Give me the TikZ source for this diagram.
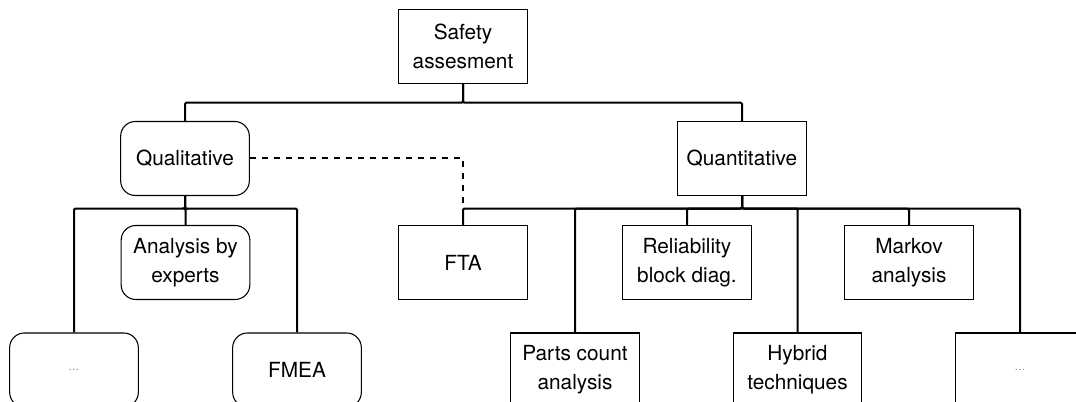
\documentclass[tikz,border=0pt]{standalone}
\usepackage{fontspec}
\setmainfont{TeX Gyre Heros}
\newcommand{\etc}{\textcolor{gray}{\fontsize{8}{8}\selectfont\dots}}
\begin{document}
\begin{tikzpicture}[x=0.75pt,y=-0.75pt,
    font=\fontsize{15.6}{21.5}\selectfont]

        \clip (0,0) rectangle (1076,402);

        \begin{scope}[every node/.style={draw,line width=0.8pt,align=center,
            minimum width=96.5pt,minimum height=55.5pt,inner sep=1pt}]
          \node (safety) at (463,46.6)   {Safety\\assesment};
          \node (quant)  at (742,158.5)  {Quantitative};
          \node (fta)    at (463,262.5)  {FTA};
          \node (rbd)    at (687,262.5)  {Reliability\\block diag.};
          \node (markov) at (909,262.5)  {Markov\\analysis};
          \node (parts)  at (575,370)    {Parts count\\analysis};
          \node (hybrid) at (797.5,370)  {Hybrid\\techniques};
          \node (dotsr)  at (1020,370)   {\etc};
        \end{scope}

        \begin{scope}[every node/.style={draw,line width=0.8pt,align=center,
            rounded corners=11pt,minimum width=96.5pt,minimum height=55.5pt,inner sep=1pt}]
          \node (qual)   at (185,158.5)  {Qualitative};
          \node (expert) at (185.5,262.5) {Analysis by\\experts};
          \node (dotsl)  at (74,370)     {\etc};
          \node (fmea)   at (297,370)    {FMEA};
        \end{scope}

        \begin{scope}[every edge/.style={draw,line width=1.5pt,rounded corners=1pt,
            to path={-- ++(0,18.6) -| (\tikztotarget)}}]
          \path (safety.south) edge (qual.north);
          \path (safety.south) edge (quant.north);
        \end{scope}

        \begin{scope}[every edge/.style={draw,line width=1.5pt,rounded corners=1pt,
            to path={-- ++(0,12.5) -| (\tikztotarget)}}]
          \path (qual.south)  edge (dotsl.north);
          \path (qual.south)  edge (expert.north);
          \path (qual.south)  edge (fmea.north);
          \path (quant.south) edge (fta.north);
          \path (quant.south) edge (parts.north);
          \path (quant.south) edge (rbd.north);
          \path (quant.south) edge (hybrid.north);
          \path (quant.south) edge (markov.north);
          \path (quant.south) edge (dotsr.north);
        \end{scope}

        \draw[line width=1.5pt,dash pattern=on 4.5pt off 4.5pt] (qual.east) -| (fta.north);

      \end{tikzpicture}
\end{document}
